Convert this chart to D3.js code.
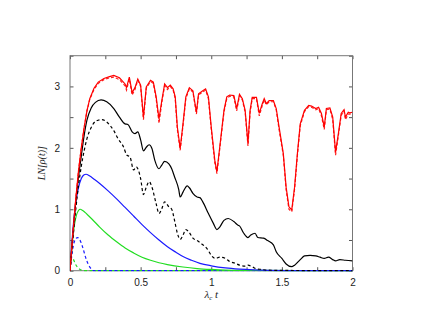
<!DOCTYPE html>
<html>
<head>
<meta charset="utf-8">
<script src="https://cdn.jsdelivr.net/npm/d3@7"></script>
<style>
  body { margin: 0; background: #fff; }
  svg { display: block; }
  .tick text { font-family: "Liberation Sans", Arial, sans-serif; font-size: 10px; fill: #222; }
</style>
</head>
<body>
<div id="chart"></div>
<script>
// tick values
const xTicksMajor = [0, 0.5, 1, 1.5, 2];
const xTicksAll = [0, 0.25, 0.5, 0.75, 1, 1.25, 1.5, 1.75, 2];
const yTicksMajor = [0, 1, 2, 3];
const yTicksAll = [0, 0.5, 1, 1.5, 2, 2.5, 3, 3.5];

// series, [t, value]
const redSolid = [[0,0],[0.02,0.6],[0.04,1.15],[0.06,1.62],[0.08,2.0],[0.1,2.33],[0.12,2.6],[0.14,2.8],[0.17,2.97],[0.2,3.07],[0.24,3.13],[0.28,3.16],[0.31,3.18],[0.35,3.14],[0.39,3.04],[0.4,2.98],[0.42,3.15],[0.44,2.9],[0.46,2.98],[0.48,3.12],[0.5,3.02],[0.52,2.5],[0.54,2.99],[0.57,3.1],[0.59,3.07],[0.61,2.83],[0.63,2.47],[0.65,2.77],[0.67,3.04],[0.69,2.98],[0.71,3.02],[0.73,2.96],[0.745,2.83],[0.76,2.34],[0.78,1.99],[0.8,2.39],[0.82,2.83],[0.845,2.98],[0.87,2.93],[0.895,2.58],[0.91,2.88],[0.94,2.93],[0.96,2.96],[0.98,2.83],[1.0,2.34],[1.025,1.8],[1.04,1.61],[1.06,2.01],[1.09,2.61],[1.11,2.83],[1.13,2.86],[1.16,2.85],[1.18,2.64],[1.2,2.87],[1.22,2.8],[1.24,2.61],[1.26,2.07],[1.275,2.61],[1.29,2.82],[1.32,2.82],[1.34,2.56],[1.36,2.71],[1.375,2.8],[1.39,2.72],[1.41,2.77],[1.44,2.77],[1.46,2.64],[1.48,2.34],[1.51,1.91],[1.53,1.36],[1.55,1.04],[1.57,0.99],[1.59,1.36],[1.61,1.91],[1.63,2.39],[1.66,2.61],[1.69,2.69],[1.71,2.68],[1.74,2.64],[1.76,2.66],[1.78,2.56],[1.8,2.34],[1.815,2.64],[1.84,2.65],[1.86,2.5],[1.88,1.93],[1.9,2.23],[1.92,2.56],[1.94,2.62],[1.95,2.5],[1.97,2.58],[1.98,2.57],[2.0,2.58]];
const redDashed = [[0,0],[0.02,0.6],[0.04,1.15],[0.06,1.62],[0.08,2.0],[0.1,2.33],[0.12,2.6],[0.14,2.79],[0.17,2.95],[0.2,3.05],[0.24,3.11],[0.28,3.14],[0.31,3.15],[0.35,3.11],[0.39,3.01],[0.4,2.94],[0.42,3.12],[0.44,2.86],[0.46,2.95],[0.48,3.1],[0.5,3.0],[0.52,2.46],[0.54,2.97],[0.57,3.08],[0.59,3.05],[0.61,2.8],[0.63,2.4],[0.65,2.74],[0.67,3.01],[0.69,2.95],[0.71,3.0],[0.73,2.94],[0.745,2.8],[0.76,2.3],[0.78,1.96],[0.8,2.36],[0.82,2.8],[0.845,2.96],[0.87,2.91],[0.895,2.55],[0.91,2.86],[0.94,2.91],[0.96,2.94],[0.98,2.8],[1.0,2.3],[1.025,1.76],[1.04,1.58],[1.06,1.98],[1.09,2.58],[1.11,2.8],[1.13,2.84],[1.16,2.83],[1.18,2.6],[1.2,2.85],[1.22,2.78],[1.24,2.58],[1.26,2.03],[1.275,2.58],[1.29,2.8],[1.32,2.8],[1.34,2.52],[1.36,2.68],[1.375,2.78],[1.39,2.7],[1.41,2.75],[1.44,2.75],[1.46,2.62],[1.48,2.3],[1.51,1.88],[1.53,1.32],[1.55,1.0],[1.57,0.96],[1.59,1.33],[1.61,1.88],[1.63,2.36],[1.66,2.59],[1.69,2.67],[1.71,2.66],[1.74,2.62],[1.76,2.64],[1.78,2.52],[1.8,2.3],[1.815,2.62],[1.84,2.63],[1.86,2.46],[1.88,1.88],[1.9,2.2],[1.92,2.53],[1.94,2.6],[1.95,2.46],[1.97,2.55],[1.98,2.55],[2.0,2.56]];
const blackSolid = [[0,0],[0.02,0.58],[0.04,1.1],[0.06,1.52],[0.08,1.87],[0.1,2.2],[0.12,2.45],[0.15,2.65],[0.18,2.74],[0.22,2.78],[0.26,2.75],[0.31,2.64],[0.35,2.5],[0.39,2.39],[0.41,2.38],[0.44,2.26],[0.46,2.23],[0.48,2.26],[0.5,2.13],[0.52,1.95],[0.54,2.01],[0.56,2.05],[0.58,1.99],[0.6,1.8],[0.63,1.66],[0.65,1.72],[0.67,1.78],[0.7,1.74],[0.72,1.66],[0.74,1.53],[0.77,1.32],[0.78,1.2],[0.8,1.28],[0.83,1.38],[0.845,1.35],[0.87,1.26],[0.9,1.2],[0.92,1.19],[0.94,1.12],[0.98,0.93],[1.015,0.77],[1.04,0.67],[1.06,0.71],[1.09,0.82],[1.12,0.85],[1.16,0.8],[1.19,0.74],[1.2,0.73],[1.23,0.61],[1.26,0.54],[1.28,0.58],[1.31,0.61],[1.33,0.54],[1.37,0.53],[1.4,0.49],[1.44,0.42],[1.46,0.31],[1.5,0.2],[1.53,0.11],[1.57,0.065],[1.59,0.09],[1.63,0.18],[1.66,0.24],[1.7,0.25],[1.74,0.24],[1.77,0.22],[1.8,0.2],[1.83,0.22],[1.86,0.18],[1.88,0.16],[1.91,0.18],[1.95,0.17],[2.0,0.16]];
const blackDashed = [[0,0],[0.02,0.5],[0.04,0.98],[0.06,1.38],[0.08,1.7],[0.1,1.95],[0.12,2.15],[0.15,2.33],[0.18,2.43],[0.225,2.46],[0.26,2.42],[0.31,2.28],[0.34,2.15],[0.38,2.01],[0.4,1.89],[0.425,1.85],[0.45,1.64],[0.47,1.69],[0.48,1.66],[0.5,1.5],[0.52,1.24],[0.54,1.36],[0.56,1.45],[0.58,1.36],[0.61,1.09],[0.63,0.93],[0.65,1.01],[0.67,1.12],[0.7,1.04],[0.72,1.0],[0.74,0.82],[0.76,0.61],[0.78,0.51],[0.8,0.58],[0.82,0.67],[0.845,0.62],[0.87,0.53],[0.9,0.49],[0.93,0.44],[0.97,0.36],[1.0,0.25],[1.03,0.2],[1.06,0.22],[1.1,0.2],[1.13,0.15],[1.17,0.12],[1.2,0.09],[1.24,0.075],[1.26,0.09],[1.29,0.065],[1.32,0.03],[1.36,0.02],[1.39,0.01],[1.49,0.005],[2.0,0]];
const blueSolid = [[0,0],[0.01,0.35],[0.02,0.65],[0.03,0.9],[0.045,1.17],[0.06,1.35],[0.08,1.5],[0.1,1.56],[0.113,1.57],[0.14,1.54],[0.17,1.49],[0.21,1.42],[0.27,1.3],[0.33,1.17],[0.39,1.03],[0.45,0.89],[0.51,0.75],[0.57,0.62],[0.63,0.5],[0.69,0.39],[0.75,0.3],[0.8,0.23],[0.86,0.17],[0.92,0.12],[1.0,0.08],[1.1,0.045],[1.2,0.025],[1.3,0.013],[1.4,0.006],[1.6,0.002],[2.0,0]];
const blueDashed = [[0,0],[0.01,0.2],[0.025,0.42],[0.04,0.52],[0.054,0.54],[0.07,0.5],[0.09,0.38],[0.11,0.22],[0.13,0.1],[0.15,0.03],[0.165,0],[2.0,0]];
const greenSolid = [[0,0],[0.01,0.3],[0.02,0.55],[0.03,0.73],[0.045,0.9],[0.06,0.98],[0.072,1.0],[0.09,0.98],[0.12,0.92],[0.16,0.83],[0.21,0.71],[0.27,0.58],[0.33,0.47],[0.39,0.37],[0.45,0.29],[0.51,0.22],[0.57,0.17],[0.63,0.13],[0.69,0.1],[0.8,0.06],[0.9,0.035],[1.0,0.02],[1.1,0.01],[1.3,0.004],[1.6,0.001],[2.0,0]];
const greenDashed = [[0,0],[0.005,0.15],[0.012,0.22],[0.025,0.18],[0.04,0.1],[0.06,0.04],[0.08,0.01],[0.1,0],[2.0,0]];

const width = 423;
const height = 327;
const margin = { left: 70, right: 70.5, top: 55.7, bottom: 56.3 };
const plotWidth = width - margin.left - margin.right;
const plotHeight = height - margin.top - margin.bottom;

const svg = d3.select("#chart")
    .append("svg")
    .attr("width", width)
    .attr("height", height);

const g = svg.append("g")
    .attr("transform", `translate(${margin.left}, ${margin.top})`);

const xScale = d3.scaleLinear().domain([0, 2]).range([0, plotWidth]);
const yScale = d3.scaleLinear().domain([0, 3.5]).range([plotHeight, 0]);

// inward ticks on all four sides, labels only on majors
function styleAxis(sel) {
    sel.select(".domain").remove();
    sel.selectAll(".tick line").attr("stroke", "#555").attr("stroke-width", 1);
}

g.append("g")
    .attr("transform", `translate(0, ${plotHeight})`)
    .call(d3.axisBottom(xScale).tickValues(xTicksAll).tickSizeInner(-3.5).tickPadding(6)
        .tickFormat(d => xTicksMajor.includes(d) ? d3.format("")(d) : ""))
    .call(styleAxis)
    .selectAll(".tick text").attr("dy", "0.95em");

g.append("g")
    .call(d3.axisTop(xScale).tickValues(xTicksAll).tickSizeInner(-3.5).tickFormat(""))
    .call(styleAxis);

g.append("g")
    .call(d3.axisLeft(yScale).tickValues(yTicksAll).tickSizeInner(-3.5).tickPadding(10)
        .tickFormat(d => yTicksMajor.includes(d) ? d3.format("")(d) : ""))
    .call(styleAxis);

g.append("g")
    .attr("transform", `translate(${plotWidth}, 0)`)
    .call(d3.axisRight(yScale).tickValues(yTicksAll).tickSizeInner(-3.5).tickFormat(""))
    .call(styleAxis);

// frame
g.append("rect")
    .attr("width", plotWidth)
    .attr("height", plotHeight)
    .attr("fill", "none")
    .attr("stroke", "#777")
    .attr("stroke-width", 1);

const lineSmooth = d3.line()
    .x(d => xScale(d[0]))
    .y(d => yScale(d[1]))
    .curve(d3.curveMonotoneX);

const lineSharp = d3.line()
    .x(d => xScale(d[0]))
    .y(d => yScale(d[1]));

const series = [
    { data: greenDashed, color: "#22dd22", dash: "3,2.5", line: lineSmooth },
    { data: blueDashed, color: "#1a1aff", dash: "3,2.5", line: lineSmooth },
    { data: greenSolid, color: "#22dd22", dash: null, line: lineSmooth },
    { data: blueSolid, color: "#1a1aff", dash: null, line: lineSmooth },
    { data: blackDashed, color: "#000", dash: "3,2.5", line: lineSmooth },
    { data: blackSolid, color: "#000", dash: null, line: lineSmooth },
    { data: redDashed, color: "#ff2020", dash: "3,2", line: lineSharp },
    { data: redSolid, color: "#ff0000", dash: null, line: lineSharp },
];

const clip = g.append("clipPath").attr("id", "clip")
    .append("rect").attr("width", plotWidth).attr("height", plotHeight + 1);

series.forEach(s => {
    g.append("path")
        .datum(s.data)
        .attr("clip-path", "url(#clip)")
        .attr("fill", "none")
        .attr("stroke", s.color)
        .attr("stroke-width", 1.2)
        .attr("stroke-dasharray", s.dash)
        .attr("d", s.line);
});

// axis titles
const xt = svg.append("text")
    .attr("x", margin.left + plotWidth / 2)
    .attr("y", 298)
    .attr("text-anchor", "middle")
    .attr("font-family", "'Liberation Serif', serif")
    .attr("font-style", "italic")
    .attr("font-size", "11px")
    .attr("fill", "#222");
xt.append("tspan").text("λ");
xt.append("tspan").attr("font-size", "7px").attr("dy", "2").text("c");
xt.append("tspan").attr("dy", "-2").text(" t");

svg.append("text")
    .attr("transform", `translate(45, ${margin.top + plotHeight / 2}) rotate(-90)`)
    .attr("text-anchor", "middle")
    .attr("font-family", "'Liberation Serif', serif")
    .attr("font-style", "italic")
    .attr("font-size", "10px")
    .attr("fill", "#222")
    .text("LN[ρ(t)]");
</script>
</body>
</html>
